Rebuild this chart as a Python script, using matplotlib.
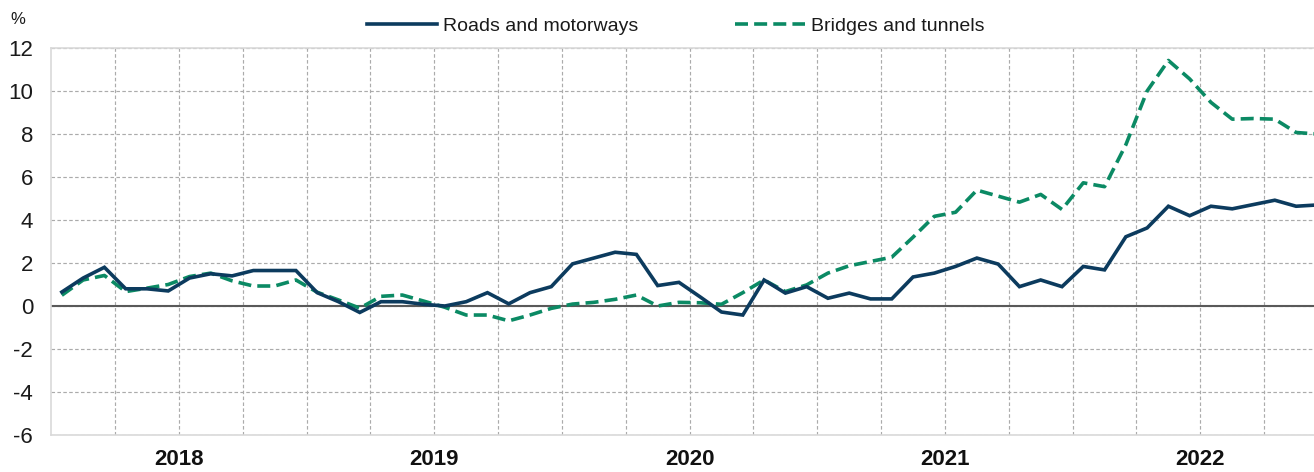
import matplotlib
matplotlib.use("Agg")
import matplotlib.pyplot as plt
import numpy as np

plt.rcParams['font.family'] = ['Liberation Sans', 'DejaVu Sans']

# Monthly data, Jan 2018 - Dec 2022
years = ["2018", "2019", "2020", "2021", "2022"]
roads = [0.65, 1.3, 1.8, 0.8, 0.8, 0.7, 1.3, 1.5, 1.4, 1.65, 1.65, 1.65,
         0.62, 0.2, -0.3, 0.2, 0.2, 0.08, 0.0, 0.2, 0.62, 0.1, 0.62, 0.9,
         1.96, 2.23, 2.5, 2.4, 0.95, 1.1, 0.42, -0.28, -0.42, 1.21, 0.6, 0.9,
         0.36, 0.6, 0.33, 0.33, 1.35, 1.53, 1.84, 2.23, 1.95, 0.9, 1.21, 0.9,
         1.84, 1.68, 3.22, 3.63, 4.64, 4.2, 4.64, 4.52, 4.72, 4.92, 4.64, 4.7]
bridges = [0.5, 1.21, 1.42, 0.67, 0.83, 1.0, 1.37, 1.53, 1.17, 0.93, 0.93, 1.21,
           0.64, 0.28, -0.1, 0.45, 0.51, 0.23, -0.06, -0.42, -0.42, -0.69, -0.42, -0.11,
           0.09, 0.17, 0.31, 0.51, 0.0, 0.17, 0.15, 0.08, 0.62, 1.21, 0.67, 0.98,
           1.53, 1.87, 2.07, 2.27, 3.2, 4.17, 4.36, 5.39, 5.11, 4.83, 5.19, 4.49,
           5.73, 5.55, 7.5, 10.0, 11.42, 10.56, 9.47, 8.69, 8.72, 8.69, 8.07, 8.0]
yticks = [-6, -4, -2, 0, 2, 4, 6, 8, 10, 12]

W, H = 1314, 472
fig = plt.figure(figsize=(W / 100, H / 100), dpi=100)
n = len(roads)
pxm = 21.28
left, top, bottom = 51.2, 48, 435
ax = fig.add_axes([left / W, (H - bottom) / H, n * pxm / W, (bottom - top) / H])

x = np.arange(n)
ax.plot(x, roads, color="#0c3b5e", lw=2.6, solid_joinstyle="miter",
        label="Roads and motorways", zorder=4)
ax.plot(x, bridges, color="#0b8a64", lw=2.6, dashes=(3.6, 1.7),
        label="Bridges and tunnels", zorder=3)

ax.axhline(0, color="#595959", lw=1.5, zorder=2)

ax.set_xlim(-0.5, n - 0.5)
ax.set_ylim(-6, 12)
ax.set_yticks(yticks)
ax.set_yticklabels([str(v) for v in yticks], fontsize=16, color="#1a1a1a")

# vertical grid every quarter, year labels centred on each year
ax.set_xticks(np.arange(2.5, n - 1, 3))
ax.set_xticklabels([])
for k, yr in enumerate(years):
    ax.text(12 * k + 5.5, -0.035, yr, transform=ax.get_xaxis_transform(),
            ha="center", va="top", fontsize=16, fontweight="bold", color="#111111")
ax.tick_params(axis="both", which="both", length=0)
ax.tick_params(axis="y", pad=13)

ax.grid(False)
ax.xaxis.grid(True, which="major", color="#ababab", lw=0.85, ls=(0, (3, 2)))
ax.yaxis.grid(True, which="major", color="#ababab", lw=0.85, ls=(0, (3, 2)))
ax.set_axisbelow(True)

for s in ["left", "bottom", "top"]:
    ax.spines[s].set_color("#d9d9d9")
    ax.spines[s].set_linewidth(1.2)
ax.spines["right"].set_visible(False)

fig.text(18 / W, 1 - 20 / H, "%", fontsize=12, color="#1a1a1a", ha="center", va="center")

fig.legend(loc="center", bbox_to_anchor=(676 / W, 1 - 26 / H), ncol=2, frameon=False,
           fontsize=14, handlelength=3.6, handletextpad=0.3, columnspacing=5.0,
           labelcolor="#1a1a1a")

fig.savefig("out.png", dpi=100)
